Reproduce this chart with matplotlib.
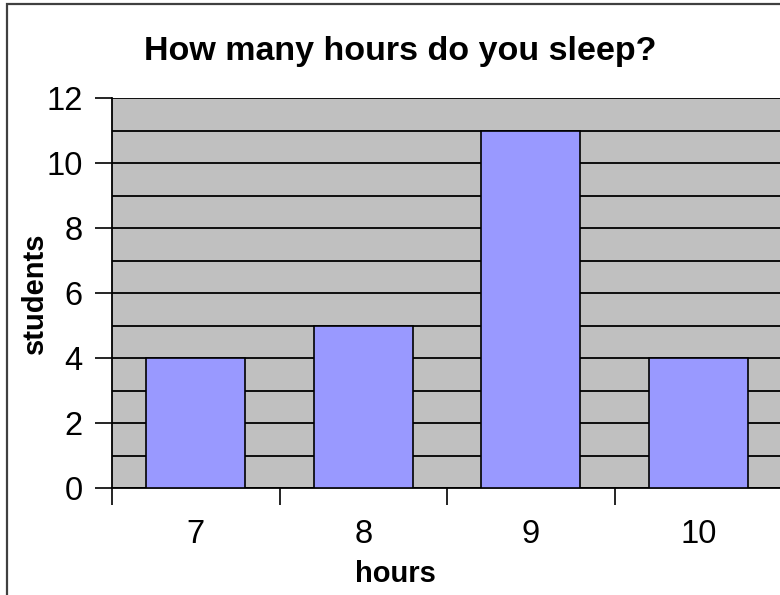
import numpy as np
import matplotlib.pyplot as plt
from matplotlib.patches import Rectangle

hours = ['7', '8', '9', '10']
students = [4, 5, 11, 4]

plt.rcParams['font.family'] = 'Liberation Sans'

fig = plt.figure(figsize=(7.8, 5.95), dpi=100)
ax = fig.add_axes([112 / 780, 107 / 595, 670 / 780, 390 / 595])

x = np.arange(len(hours))
ax.set_facecolor('#C0C0C0')
ax.bar(x, students, width=0.59, color='#9999FF', edgecolor='black', linewidth=1.2, zorder=3)

ax.set_xlim(-0.5, len(hours) - 0.5)
ax.set_ylim(0, 12)

# gridlines every student, labels every 2
ax.set_yticks(np.arange(0, 13, 2))
ax.set_yticks(np.arange(0, 13, 1), minor=True)
ax.yaxis.grid(True, which='both', color='black', linewidth=1.3, zorder=1)
ax.set_axisbelow(True)
ax.tick_params(axis='y', which='major', length=12, width=1.2, direction='out', pad=9, labelsize=23.5)
ax.tick_params(axis='y', which='minor', length=0)

ax.set_xticks(x)
ax.set_xticklabels(hours)
ax.set_xticks(np.arange(-0.5, len(hours), 1), minor=True)
ax.tick_params(axis='x', which='major', length=0, pad=22, labelsize=23.5)
ax.tick_params(axis='x', which='minor', length=12, width=1.2, direction='out')

for side in ['top', 'right']:
    ax.spines[side].set_visible(False)
for side in ['left', 'bottom']:
    ax.spines[side].set_linewidth(1.3)

fig.text(395 / 780, 1 - 582 / 595, 'hours', fontsize=21, fontweight='bold',
         ha='center', va='baseline')
fig.text(35 / 780, 1 - 293 / 595, 'students', fontsize=21, fontweight='bold',
         ha='center', va='center', rotation=90)

fig.text(400 / 780, 1 - 60 / 595, 'How many hours do you sleep?', fontsize=24.5,
         fontweight='bold', ha='center', va='baseline')

# chart area border
fig.patches.append(Rectangle((7 / 780, -0.1), 1.2, 1.1 - 4 / 595, transform=fig.transFigure,
                             fill=False, edgecolor='#404040', linewidth=1.6))

fig.savefig('out.png', dpi=100)
